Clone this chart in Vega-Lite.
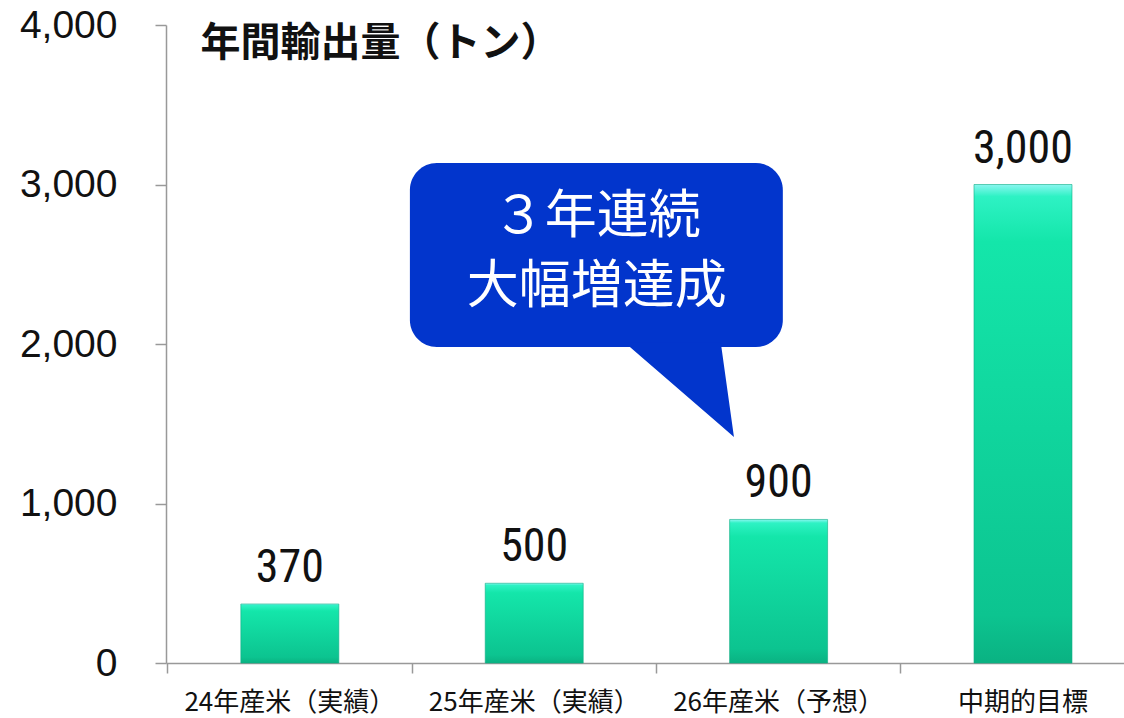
{
  "$schema": "https://vega.github.io/schema/vega-lite/v6.json",
  "width": 958,
  "height": 638,
  "autosize": {"type": "none"},
  "padding": {"left": 166, "top": 25, "right": 0, "bottom": 55},
  "background": "white",
  "config": {"view": {"stroke": null}},
  "datasets": {
    "bars": [
      {"category": "24年産米（実績）", "tons": 370},
      {"category": "25年産米（実績）", "tons": 500},
      {"category": "26年産米（予想）", "tons": 900},
      {"category": "中期的目標", "tons": 3000}
    ],
    "callout": [
      {"left": 0.491, "right": 2.017, "bottom": 1981, "top": 3135}
    ],
    "pointer": [
      {"pos": 1.37, "upper": 2010, "lower": 2010},
      {"pos": 1.763, "upper": 2010, "lower": 1489},
      {"pos": 1.817, "upper": 1417, "lower": 1417}
    ],
    "calloutText": [
      {"pos": 1.256, "value": 2796, "label": "３年連続\n大幅増達成"}
    ]
  },
  "layer": [
    {
      "data": {"name": "bars"},
      "encoding": {
        "x": {
          "field": "category",
          "type": "nominal",
          "sort": null,
          "scale": {"paddingInner": 0.599, "paddingOuter": 0.2595, "align": 0.59},
          "axis": {
            "title": null,
            "bandPosition": -0.747,
            "labelAngle": 0,
            "labelLimit": 0,
            "labelFont": "Noto Sans CJK JP",
            "labelFontSize": 26,
            "labelColor": "#111111",
            "labelPadding": 16,
            "labelBaseline": "top",
            "tickSize": 10,
            "tickColor": "#999999",
            "domainColor": "#999999",
            "domainWidth": 1.5,
            "tickWidth": 1.5
          }
        },
        "y": {
          "field": "tons",
          "type": "quantitative",
          "scale": {"domain": [0, 4000], "nice": false},
          "axis": {
            "values": [0, 1000, 2000, 3000, 4000],
            "format": ",.0f",
            "grid": false,
            "labelFont": "Liberation Sans",
            "labelFontSize": 39,
            "labelColor": "#111111",
            "labelPadding": 38,
            "tickSize": 11,
            "tickColor": "#999999",
            "domainColor": "#999999",
            "domainWidth": 1.5,
            "tickWidth": 1.5,
            "title": "年間輸出量（トン）",
            "titleAngle": 0,
            "titleAlign": "left",
            "titleBaseline": "middle",
            "titleX": 34,
            "titleY": 18,
            "titleFont": "Noto Sans CJK JP",
            "titleFontSize": 40,
            "titleFontWeight": "bold",
            "titleColor": "#111111"
          }
        }
      },
      "layer": [
        {
          "mark": {
            "type": "bar",
            "stroke": "#0fae84",
            "strokeWidth": 1,
            "strokeOpacity": 0.6,
            "color": {
              "gradient": "linear",
              "x1": 0, "y1": 0, "x2": 0, "y2": 1,
              "stops": [
                {"offset": 0, "color": "#8af6f0"},
                {"offset": 0.025, "color": "#2ef2c4"},
                {"offset": 0.12, "color": "#14e6aa"},
                {"offset": 0.9, "color": "#0cc490"},
                {"offset": 1, "color": "#0ab282"}
              ]
            }
          }
        },
        {
          "mark": {"type": "text", "font": "Liberation Sans Narrow, Roboto Condensed, Liberation Sans", "fontSize": 46, "color": "#111111", "baseline": "alphabetic", "dy": -22},
          "encoding": {
            "text": {"field": "tons", "type": "quantitative", "format": ",.0f"}
          }
        }
      ]
    },
    {
      "layer": [
        {
          "data": {"name": "callout"},
          "mark": {"type": "rect", "color": "#0235cc", "cornerRadius": 27},
          "encoding": {
            "x": {"field": "left", "type": "quantitative", "scale": {"domain": [-0.507, 3.413], "nice": false, "zero": false}, "axis": null},
            "x2": {"field": "right"},
            "y": {"field": "bottom", "type": "quantitative"},
            "y2": {"field": "top"}
          }
        },
        {
          "data": {"name": "pointer"},
          "mark": {"type": "area", "color": "#0235cc", "orient": "vertical", "opacity": 1},
          "encoding": {
            "x": {"field": "pos", "type": "quantitative", "scale": {"domain": [-0.507, 3.413], "nice": false, "zero": false}, "axis": null},
            "y": {"field": "upper", "type": "quantitative"},
            "y2": {"field": "lower"}
          }
        },
        {
          "data": {"name": "calloutText"},
          "mark": {"type": "text", "font": "Noto Sans CJK JP", "fontSize": 52, "color": "white", "align": "center", "baseline": "middle", "lineBreak": "\n", "lineHeight": 70},
          "encoding": {
            "x": {"field": "pos", "type": "quantitative", "scale": {"domain": [-0.507, 3.413], "nice": false, "zero": false}, "axis": null},
            "y": {"field": "value", "type": "quantitative"},
            "text": {"field": "label"}
          }
        }
      ]
    }
  ],
  "resolve": {"scale": {"x": "independent"}}
}
